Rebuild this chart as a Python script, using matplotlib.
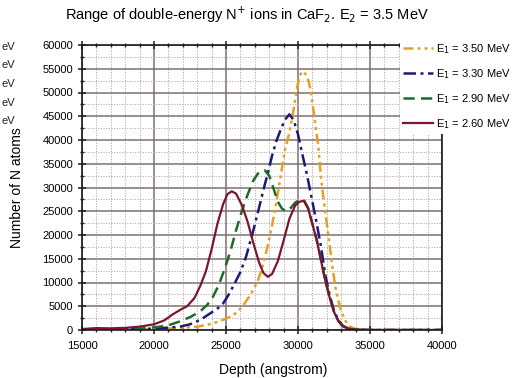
import matplotlib
matplotlib.use("Agg")
import matplotlib.pyplot as plt
from matplotlib.ticker import MultipleLocator

plt.rcParams['font.family'] = ['Liberation Sans', 'DejaVu Sans']

# depth (angstrom) / number of N atoms for each first-step energy
x_350 = [15000, 19000, 21000, 22000, 23000, 24000, 24600, 25300, 25800, 26200, 26700,
         27200, 27600, 27900, 28200, 28500, 28800, 29100, 29400, 29700, 29950, 30100,
         30250, 30400, 30550, 30750, 30950, 31150, 31400, 31600, 31800, 32000, 32200, 32400,
         32600, 32800, 33000, 33300, 33600, 34000, 34500, 35000, 40000]
y_350 = [0, 100, 300, 450, 700, 1300, 1900, 2800, 3800, 5200, 7400,
         10200, 14000, 17800, 22000, 27000, 32500, 38000, 41500, 46500, 51200, 53300,
         54300, 54400, 53700, 52300, 49000, 44500, 39000, 32000, 27000, 22400, 17800, 13000,
         9000, 6200, 4000, 1900, 700, 200, 50, 0, 0]

x_330 = [15000, 18000, 20000, 21000, 21800, 22500, 23200, 23800, 24400, 24800, 25200,
         25600, 26000, 26400, 26900, 27300, 27600, 27900, 28200, 28500, 28800, 29100,
         29400, 29700, 30000, 30300, 30600, 30800, 31100, 31300, 31600, 31900, 32200,
         32500, 32800, 33100, 33500, 34000, 35000, 40000]
y_330 = [0, 100, 300, 500, 700, 1200, 2100, 3300, 4500, 5600, 7500,
         9800, 12200, 15500, 21000, 25800, 29500, 33000, 36700, 39800, 42200, 44300,
         45400, 44200, 41200, 37000, 33000, 30000, 25500, 22400, 17500, 11500, 7300,
         4100, 2100, 900, 300, 100, 0, 0]

x_290 = [15000, 17000, 18800, 19500, 20400, 21100, 21800, 22500, 23200, 23700, 24100,
         24500, 24900, 25300, 25700, 26100, 26500, 26900, 27300, 27700, 28000, 28300,
         28600, 28900, 29200, 29500, 29800, 30100, 30400, 30700, 31000, 31300, 31600,
         31900, 32200, 32500, 32800, 33100, 33500, 34000, 35000, 40000]
y_290 = [0, 50, 200, 400, 700, 1100, 1800, 2700, 3900, 5300, 7000,
         9500, 12800, 16500, 21000, 25000, 28500, 31500, 33300, 33600, 32500, 29800,
         27000, 25500, 25000, 25700, 26800, 27400, 27400, 25700, 22400, 19000, 14700,
         10400, 6900, 3900, 1950, 850, 280, 90, 0, 0]

x_260 = [15000, 16000, 17000, 18000, 19000, 20000, 20700, 21300, 21800, 22300, 22800,
         23200, 23600, 24000, 24400, 24800, 25100, 25400, 25700, 26100, 26500, 26900,
         27300, 27600, 27900, 28200, 28600, 29000, 29400, 29800, 30100, 30400, 30700,
         31000, 31300, 31600, 31900, 32200, 32500, 32800, 33100, 33500, 34000, 35000, 40000]
y_260 = [200, 400, 350, 450, 700, 1200, 2000, 3300, 4200, 5000, 6700,
         9200, 12300, 17000, 22300, 26500, 28600, 29200, 28700, 26300, 22800, 18300,
         14200, 12000, 11200, 11800, 14500, 18800, 23400, 26200, 27000, 27200, 25600,
         22300, 18900, 14600, 10300, 6800, 3800, 1900, 800, 250, 80, 0, 0]

labels = ['E$_1$ = 3.50 MeV', 'E$_1$ = 3.30 MeV', 'E$_1$ = 2.90 MeV', 'E$_1$ = 2.60 MeV']

fig = plt.figure(figsize=(5.15, 3.78), dpi=100)
ax = fig.add_axes([82 / 515, 1 - 330 / 378, 360 / 515, 285 / 378])

ax.plot(x_350, y_350, color='#e5a024', lw=1.8, ls=(0, (4, 1.6, 1.2, 1.6, 1.2, 1.6)), label=labels[0])
ax.plot(x_330, y_330, color='#1b1b78', lw=1.8, ls=(0, (5, 1.8, 1.2, 1.8)), label=labels[1])
ax.plot(x_290, y_290, color='#1d6a2b', lw=1.8, ls=(0, (4.5, 2.5)), label=labels[2])
ax.plot(x_260, y_260, color='#7a1630', lw=1.6, ls='-', label=labels[3])

ax.set_xlim(15000, 40000)
ax.set_ylim(0, 60000)
ax.xaxis.set_major_locator(MultipleLocator(5000))
ax.xaxis.set_minor_locator(MultipleLocator(1000))
ax.yaxis.set_major_locator(MultipleLocator(5000))
ax.yaxis.set_minor_locator(MultipleLocator(2500))

ax.grid(which='major', color='#7f7070', lw=1.1, ls='-')
ax.grid(which='minor', color='#b9aaaa', lw=0.7, ls=(0, (1.2, 1.5)))
ax.set_axisbelow(True)

for s in ax.spines.values():
    s.set_color('#1a1a1a')
    s.set_linewidth(1.2)

ax.tick_params(which='major', direction='inout', length=6, width=1.1, labelsize=8, color='#1a1a1a')
ax.tick_params(which='minor', direction='inout', length=3.5, width=1.0, color='#1a1a1a')
ax.tick_params(top=True, which='both')
ax.tick_params(axis='x', pad=5)

ax.set_xlabel('Depth (angstrom)', fontsize=10)
ax.set_ylabel('Number of N atoms', fontsize=10)
ax.xaxis.set_label_coords(0.53, -0.115)
ax.yaxis.set_label_coords(-0.16, 0.5)

fig.text(247 / 515, 1 - 20 / 378, 'Range of double-energy N$^{+}$ ions in CaF$_2$. E$_2$ = 3.5 MeV',
         ha='center', va='baseline', fontsize=10.5)

leg = ax.legend(loc='upper left', bbox_to_anchor=(400 / 515, 1 - 39 / 378), bbox_transform=fig.transFigure,
                frameon=True, fontsize=8, handlelength=2.7, handletextpad=0.2, labelspacing=1.0,
                borderpad=0.3, borderaxespad=0)
leg.get_frame().set_edgecolor('none')
leg.get_frame().set_facecolor('white')
leg.get_frame().set_alpha(1)

# clipped labels along the left border
for i in range(5):
    fig.text(1 / 515, 1 - (50 + i * 18.5) / 378, 'eV', ha='left', va='baseline', fontsize=8, color='#222222')

fig.savefig('out.png', dpi=100)
